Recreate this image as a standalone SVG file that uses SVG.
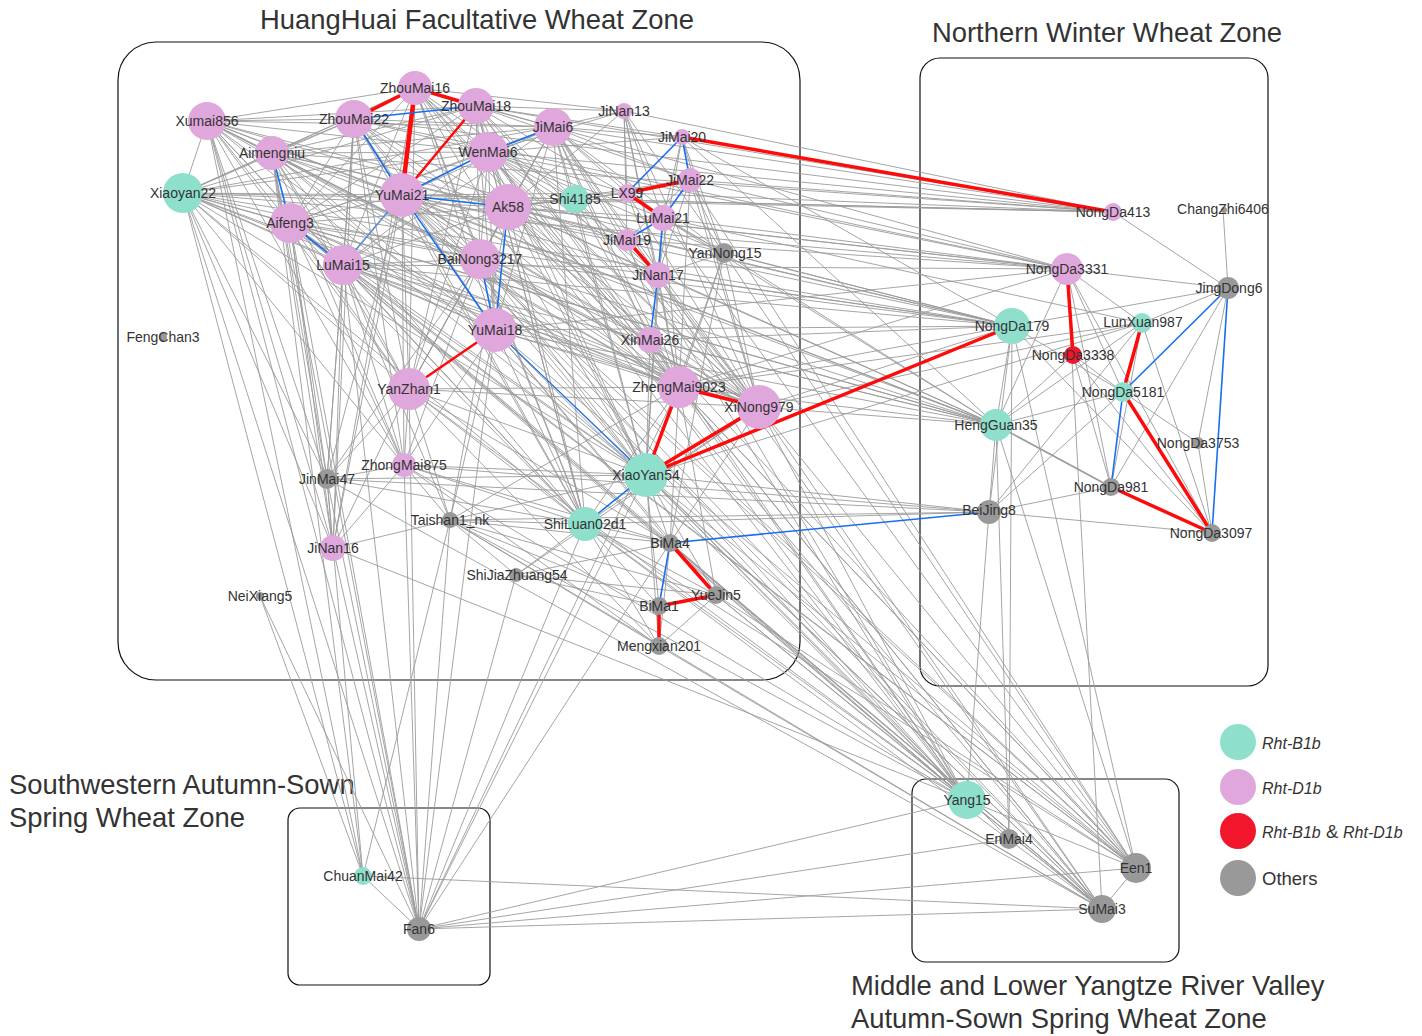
<svg xmlns="http://www.w3.org/2000/svg" width="1422" height="1036" viewBox="0 0 1422 1036">
<style>
.g line{stroke:#9b9b9b;stroke-width:0.9}
.r line{stroke:#ff0a0a;stroke-width:3.5;stroke-linecap:round}
.b line{stroke:#1a6ef0;stroke-width:1.6}
.box{fill:none;stroke:#111;stroke-width:1.2}
.title{font-family:"Liberation Sans",Arial,sans-serif;font-size:27.4px;fill:#333}
.lbl{font-family:"Liberation Sans",Arial,sans-serif;font-size:14px;fill:#333;text-anchor:middle}
.leg{font-family:"Liberation Sans",Arial,sans-serif;font-size:18.5px;fill:#333}
.it{font-style:italic;font-size:16px}
.t{fill:#8ee0cd}.p{fill:#e0a7dc}.rd{fill:#f2162c}.gy{fill:#999}
</style>
<rect width="1422" height="1036" fill="#fff"/>
<g id="zones">
<rect class="box" x="118" y="42" width="682" height="638" rx="38"/>
<rect class="box" x="920" y="58" width="348" height="628" rx="20"/>
<rect class="box" x="288" y="808" width="202" height="177" rx="12"/>
<rect class="box" x="912" y="779" width="267" height="183" rx="14"/>
<text class="title" x="477" y="29" text-anchor="middle">HuangHuai Facultative Wheat Zone</text>
<text class="title" x="1107" y="42" text-anchor="middle">Northern Winter Wheat Zone</text>
<text class="title" x="9" y="794">Southwestern Autumn-Sown</text>
<text class="title" x="9" y="827">Spring Wheat Zone</text>
<text class="title" x="851" y="995">Middle and Lower Yangtze River Valley</text>
<text class="title" x="851" y="1028">Autumn-Sown Spring Wheat Zone</text>
</g>
<g id="connectors">
<g class="g">
<line x1="207" y1="121" x2="272" y2="153"/><line x1="207" y1="121" x2="183" y2="193"/><line x1="207" y1="121" x2="290" y2="223"/><line x1="207" y1="121" x2="343" y2="265"/><line x1="207" y1="121" x2="354" y2="119"/><line x1="207" y1="121" x2="415" y2="88"/><line x1="207" y1="121" x2="476" y2="106"/><line x1="207" y1="121" x2="402" y2="195"/><line x1="207" y1="121" x2="488" y2="152"/><line x1="207" y1="121" x2="553" y2="127"/><line x1="207" y1="121" x2="508" y2="207"/><line x1="207" y1="121" x2="480" y2="259"/><line x1="207" y1="121" x2="495" y2="330"/><line x1="207" y1="121" x2="409" y2="389"/><line x1="207" y1="121" x2="679" y2="387"/><line x1="207" y1="121" x2="759" y2="407"/><line x1="207" y1="121" x2="646" y2="475"/><line x1="207" y1="121" x2="585" y2="524"/>
<line x1="272" y1="153" x2="183" y2="193"/><line x1="272" y1="153" x2="343" y2="265"/><line x1="272" y1="153" x2="354" y2="119"/><line x1="272" y1="153" x2="415" y2="88"/><line x1="272" y1="153" x2="476" y2="106"/><line x1="272" y1="153" x2="402" y2="195"/><line x1="272" y1="153" x2="488" y2="152"/><line x1="272" y1="153" x2="553" y2="127"/><line x1="272" y1="153" x2="508" y2="207"/><line x1="272" y1="153" x2="480" y2="259"/><line x1="272" y1="153" x2="495" y2="330"/><line x1="272" y1="153" x2="409" y2="389"/><line x1="272" y1="153" x2="679" y2="387"/><line x1="272" y1="153" x2="759" y2="407"/><line x1="272" y1="153" x2="646" y2="475"/><line x1="272" y1="153" x2="585" y2="524"/>
<line x1="183" y1="193" x2="290" y2="223"/><line x1="183" y1="193" x2="343" y2="265"/><line x1="183" y1="193" x2="354" y2="119"/><line x1="183" y1="193" x2="415" y2="88"/><line x1="183" y1="193" x2="476" y2="106"/><line x1="183" y1="193" x2="402" y2="195"/><line x1="183" y1="193" x2="488" y2="152"/><line x1="183" y1="193" x2="553" y2="127"/><line x1="183" y1="193" x2="508" y2="207"/><line x1="183" y1="193" x2="480" y2="259"/><line x1="183" y1="193" x2="495" y2="330"/><line x1="183" y1="193" x2="409" y2="389"/><line x1="183" y1="193" x2="679" y2="387"/><line x1="183" y1="193" x2="759" y2="407"/><line x1="183" y1="193" x2="646" y2="475"/><line x1="183" y1="193" x2="585" y2="524"/>
<line x1="290" y1="223" x2="354" y2="119"/><line x1="290" y1="223" x2="415" y2="88"/><line x1="290" y1="223" x2="476" y2="106"/><line x1="290" y1="223" x2="402" y2="195"/><line x1="290" y1="223" x2="488" y2="152"/><line x1="290" y1="223" x2="553" y2="127"/><line x1="290" y1="223" x2="508" y2="207"/><line x1="290" y1="223" x2="480" y2="259"/><line x1="290" y1="223" x2="495" y2="330"/><line x1="290" y1="223" x2="409" y2="389"/><line x1="290" y1="223" x2="679" y2="387"/><line x1="290" y1="223" x2="759" y2="407"/><line x1="290" y1="223" x2="646" y2="475"/><line x1="290" y1="223" x2="585" y2="524"/>
<line x1="343" y1="265" x2="354" y2="119"/><line x1="343" y1="265" x2="415" y2="88"/><line x1="343" y1="265" x2="476" y2="106"/><line x1="343" y1="265" x2="488" y2="152"/><line x1="343" y1="265" x2="553" y2="127"/><line x1="343" y1="265" x2="508" y2="207"/><line x1="343" y1="265" x2="480" y2="259"/><line x1="343" y1="265" x2="495" y2="330"/><line x1="343" y1="265" x2="409" y2="389"/><line x1="343" y1="265" x2="679" y2="387"/><line x1="343" y1="265" x2="759" y2="407"/><line x1="343" y1="265" x2="646" y2="475"/><line x1="343" y1="265" x2="585" y2="524"/>
<line x1="354" y1="119" x2="488" y2="152"/><line x1="354" y1="119" x2="553" y2="127"/><line x1="354" y1="119" x2="508" y2="207"/><line x1="354" y1="119" x2="480" y2="259"/><line x1="354" y1="119" x2="495" y2="330"/><line x1="354" y1="119" x2="409" y2="389"/><line x1="354" y1="119" x2="679" y2="387"/><line x1="354" y1="119" x2="759" y2="407"/><line x1="354" y1="119" x2="646" y2="475"/><line x1="354" y1="119" x2="585" y2="524"/>
<line x1="415" y1="88" x2="488" y2="152"/><line x1="415" y1="88" x2="553" y2="127"/><line x1="415" y1="88" x2="508" y2="207"/><line x1="415" y1="88" x2="480" y2="259"/><line x1="415" y1="88" x2="495" y2="330"/><line x1="415" y1="88" x2="409" y2="389"/><line x1="415" y1="88" x2="679" y2="387"/><line x1="415" y1="88" x2="759" y2="407"/><line x1="415" y1="88" x2="646" y2="475"/><line x1="415" y1="88" x2="585" y2="524"/>
<line x1="476" y1="106" x2="488" y2="152"/><line x1="476" y1="106" x2="553" y2="127"/><line x1="476" y1="106" x2="508" y2="207"/><line x1="476" y1="106" x2="480" y2="259"/><line x1="476" y1="106" x2="495" y2="330"/><line x1="476" y1="106" x2="409" y2="389"/><line x1="476" y1="106" x2="679" y2="387"/><line x1="476" y1="106" x2="759" y2="407"/><line x1="476" y1="106" x2="646" y2="475"/><line x1="476" y1="106" x2="585" y2="524"/>
<line x1="402" y1="195" x2="553" y2="127"/><line x1="402" y1="195" x2="480" y2="259"/><line x1="402" y1="195" x2="409" y2="389"/><line x1="402" y1="195" x2="679" y2="387"/><line x1="402" y1="195" x2="759" y2="407"/><line x1="402" y1="195" x2="646" y2="475"/><line x1="402" y1="195" x2="585" y2="524"/>
<line x1="488" y1="152" x2="508" y2="207"/><line x1="488" y1="152" x2="480" y2="259"/><line x1="488" y1="152" x2="495" y2="330"/><line x1="488" y1="152" x2="409" y2="389"/><line x1="488" y1="152" x2="679" y2="387"/><line x1="488" y1="152" x2="759" y2="407"/><line x1="488" y1="152" x2="646" y2="475"/><line x1="488" y1="152" x2="585" y2="524"/>
<line x1="553" y1="127" x2="508" y2="207"/><line x1="553" y1="127" x2="480" y2="259"/><line x1="553" y1="127" x2="495" y2="330"/><line x1="553" y1="127" x2="409" y2="389"/><line x1="553" y1="127" x2="679" y2="387"/><line x1="553" y1="127" x2="759" y2="407"/><line x1="553" y1="127" x2="646" y2="475"/><line x1="553" y1="127" x2="585" y2="524"/>
<line x1="508" y1="207" x2="480" y2="259"/><line x1="508" y1="207" x2="409" y2="389"/><line x1="508" y1="207" x2="679" y2="387"/><line x1="508" y1="207" x2="759" y2="407"/><line x1="508" y1="207" x2="646" y2="475"/><line x1="508" y1="207" x2="585" y2="524"/>
<line x1="480" y1="259" x2="409" y2="389"/><line x1="480" y1="259" x2="679" y2="387"/><line x1="480" y1="259" x2="759" y2="407"/><line x1="480" y1="259" x2="646" y2="475"/><line x1="480" y1="259" x2="585" y2="524"/>
<line x1="495" y1="330" x2="679" y2="387"/><line x1="495" y1="330" x2="759" y2="407"/><line x1="495" y1="330" x2="585" y2="524"/>
<line x1="409" y1="389" x2="679" y2="387"/><line x1="409" y1="389" x2="759" y2="407"/><line x1="409" y1="389" x2="646" y2="475"/><line x1="409" y1="389" x2="585" y2="524"/>
<line x1="679" y1="387" x2="585" y2="524"/><line x1="759" y1="407" x2="585" y2="524"/>
<line x1="624" y1="111" x2="476" y2="106"/><line x1="624" y1="111" x2="488" y2="152"/><line x1="624" y1="111" x2="553" y2="127"/><line x1="624" y1="111" x2="627" y2="193"/><line x1="624" y1="111" x2="663" y2="218"/><line x1="624" y1="111" x2="658" y2="275"/><line x1="624" y1="111" x2="724" y2="253"/><line x1="624" y1="111" x2="508" y2="207"/><line x1="624" y1="111" x2="415" y2="88"/><line x1="624" y1="111" x2="759" y2="407"/><line x1="624" y1="111" x2="679" y2="387"/><line x1="624" y1="111" x2="627" y2="240"/>
<line x1="682" y1="137" x2="553" y2="127"/><line x1="682" y1="137" x2="476" y2="106"/><line x1="682" y1="137" x2="488" y2="152"/><line x1="682" y1="137" x2="663" y2="218"/><line x1="682" y1="137" x2="658" y2="275"/><line x1="682" y1="137" x2="724" y2="253"/><line x1="682" y1="137" x2="996" y2="425"/><line x1="682" y1="137" x2="1012" y2="326"/><line x1="682" y1="137" x2="759" y2="407"/>
<line x1="690" y1="180" x2="553" y2="127"/><line x1="690" y1="180" x2="476" y2="106"/><line x1="690" y1="180" x2="759" y2="407"/><line x1="690" y1="180" x2="679" y2="387"/><line x1="690" y1="180" x2="658" y2="275"/><line x1="690" y1="180" x2="627" y2="240"/><line x1="690" y1="180" x2="724" y2="253"/><line x1="690" y1="180" x2="1067" y2="269"/><line x1="690" y1="180" x2="1113" y2="212"/><line x1="690" y1="180" x2="508" y2="207"/>
<line x1="627" y1="193" x2="553" y2="127"/><line x1="627" y1="193" x2="488" y2="152"/><line x1="627" y1="193" x2="508" y2="207"/><line x1="627" y1="193" x2="658" y2="275"/><line x1="627" y1="193" x2="402" y2="195"/><line x1="627" y1="193" x2="759" y2="407"/>
<line x1="663" y1="218" x2="553" y2="127"/><line x1="663" y1="218" x2="508" y2="207"/><line x1="663" y1="218" x2="724" y2="253"/><line x1="663" y1="218" x2="646" y2="475"/><line x1="663" y1="218" x2="679" y2="387"/><line x1="663" y1="218" x2="488" y2="152"/>
<line x1="627" y1="240" x2="553" y2="127"/><line x1="627" y1="240" x2="508" y2="207"/><line x1="627" y1="240" x2="488" y2="152"/><line x1="627" y1="240" x2="679" y2="387"/><line x1="627" y1="240" x2="759" y2="407"/><line x1="627" y1="240" x2="402" y2="195"/>
<line x1="658" y1="275" x2="553" y2="127"/><line x1="658" y1="275" x2="488" y2="152"/><line x1="658" y1="275" x2="508" y2="207"/><line x1="658" y1="275" x2="679" y2="387"/><line x1="658" y1="275" x2="759" y2="407"/><line x1="658" y1="275" x2="646" y2="475"/><line x1="658" y1="275" x2="724" y2="253"/><line x1="658" y1="275" x2="402" y2="195"/>
<line x1="724" y1="253" x2="553" y2="127"/><line x1="724" y1="253" x2="679" y2="387"/><line x1="724" y1="253" x2="759" y2="407"/><line x1="724" y1="253" x2="646" y2="475"/><line x1="724" y1="253" x2="670" y2="543"/><line x1="724" y1="253" x2="476" y2="106"/><line x1="724" y1="253" x2="488" y2="152"/>
<line x1="650" y1="340" x2="553" y2="127"/><line x1="650" y1="340" x2="488" y2="152"/><line x1="650" y1="340" x2="476" y2="106"/><line x1="650" y1="340" x2="679" y2="387"/><line x1="650" y1="340" x2="759" y2="407"/><line x1="650" y1="340" x2="646" y2="475"/><line x1="650" y1="340" x2="402" y2="195"/><line x1="650" y1="340" x2="415" y2="88"/><line x1="650" y1="340" x2="508" y2="207"/><line x1="650" y1="340" x2="480" y2="259"/>
<line x1="575" y1="199" x2="476" y2="106"/><line x1="575" y1="199" x2="488" y2="152"/><line x1="575" y1="199" x2="553" y2="127"/><line x1="575" y1="199" x2="508" y2="207"/><line x1="575" y1="199" x2="402" y2="195"/><line x1="575" y1="199" x2="646" y2="475"/><line x1="575" y1="199" x2="627" y2="193"/><line x1="575" y1="199" x2="658" y2="275"/><line x1="575" y1="199" x2="679" y2="387"/><line x1="575" y1="199" x2="415" y2="88"/><line x1="575" y1="199" x2="759" y2="407"/>
<line x1="404" y1="465" x2="409" y2="389"/><line x1="404" y1="465" x2="343" y2="265"/><line x1="404" y1="465" x2="290" y2="223"/><line x1="404" y1="465" x2="272" y2="153"/><line x1="404" y1="465" x2="207" y2="121"/><line x1="404" y1="465" x2="402" y2="195"/><line x1="404" y1="465" x2="495" y2="330"/><line x1="404" y1="465" x2="480" y2="259"/><line x1="404" y1="465" x2="183" y2="193"/><line x1="404" y1="465" x2="333" y2="548"/><line x1="404" y1="465" x2="327" y2="479"/><line x1="404" y1="465" x2="450" y2="520"/><line x1="404" y1="465" x2="585" y2="524"/><line x1="404" y1="465" x2="646" y2="475"/><line x1="404" y1="465" x2="354" y2="119"/>
<line x1="327" y1="479" x2="183" y2="193"/><line x1="327" y1="479" x2="207" y2="121"/><line x1="327" y1="479" x2="272" y2="153"/><line x1="327" y1="479" x2="290" y2="223"/><line x1="327" y1="479" x2="343" y2="265"/><line x1="327" y1="479" x2="409" y2="389"/><line x1="327" y1="479" x2="402" y2="195"/><line x1="327" y1="479" x2="354" y2="119"/><line x1="327" y1="479" x2="333" y2="548"/><line x1="327" y1="479" x2="585" y2="524"/><line x1="327" y1="479" x2="646" y2="475"/><line x1="327" y1="479" x2="480" y2="259"/>
<line x1="333" y1="548" x2="183" y2="193"/><line x1="333" y1="548" x2="207" y2="121"/><line x1="333" y1="548" x2="272" y2="153"/><line x1="333" y1="548" x2="290" y2="223"/><line x1="333" y1="548" x2="343" y2="265"/><line x1="333" y1="548" x2="354" y2="119"/><line x1="333" y1="548" x2="402" y2="195"/><line x1="333" y1="548" x2="409" y2="389"/><line x1="333" y1="548" x2="450" y2="520"/><line x1="333" y1="548" x2="415" y2="88"/><line x1="333" y1="548" x2="967" y2="800"/>
<line x1="450" y1="520" x2="409" y2="389"/><line x1="450" y1="520" x2="495" y2="330"/><line x1="450" y1="520" x2="343" y2="265"/><line x1="450" y1="520" x2="585" y2="524"/><line x1="450" y1="520" x2="646" y2="475"/><line x1="450" y1="520" x2="670" y2="543"/><line x1="450" y1="520" x2="716" y2="595"/><line x1="450" y1="520" x2="679" y2="387"/><line x1="450" y1="520" x2="516" y2="575"/><line x1="450" y1="520" x2="508" y2="207"/>
<line x1="516" y1="575" x2="670" y2="543"/><line x1="516" y1="575" x2="716" y2="595"/><line x1="516" y1="575" x2="585" y2="524"/><line x1="516" y1="575" x2="759" y2="407"/>
<line x1="670" y1="543" x2="646" y2="475"/><line x1="670" y1="543" x2="585" y2="524"/><line x1="670" y1="543" x2="679" y2="387"/><line x1="670" y1="543" x2="404" y2="465"/><line x1="670" y1="543" x2="409" y2="389"/><line x1="670" y1="543" x2="759" y2="407"/><line x1="670" y1="543" x2="495" y2="330"/>
<line x1="716" y1="595" x2="646" y2="475"/><line x1="716" y1="595" x2="585" y2="524"/><line x1="716" y1="595" x2="679" y2="387"/><line x1="716" y1="595" x2="659" y2="646"/><line x1="716" y1="595" x2="495" y2="330"/>
<line x1="659" y1="606" x2="646" y2="475"/><line x1="659" y1="606" x2="585" y2="524"/><line x1="659" y1="606" x2="516" y2="575"/><line x1="659" y1="606" x2="450" y2="520"/>
<line x1="659" y1="646" x2="585" y2="524"/><line x1="659" y1="646" x2="646" y2="475"/><line x1="659" y1="646" x2="409" y2="389"/><line x1="659" y1="646" x2="450" y2="520"/><line x1="659" y1="646" x2="670" y2="543"/><line x1="659" y1="646" x2="404" y2="465"/>
<line x1="260" y1="596" x2="363" y2="876"/><line x1="260" y1="596" x2="419" y2="929"/>
<line x1="967" y1="800" x2="646" y2="475"/><line x1="967" y1="800" x2="585" y2="524"/><line x1="967" y1="800" x2="759" y2="407"/><line x1="967" y1="800" x2="679" y2="387"/><line x1="967" y1="800" x2="495" y2="330"/><line x1="967" y1="800" x2="508" y2="207"/><line x1="967" y1="800" x2="488" y2="152"/><line x1="967" y1="800" x2="658" y2="275"/><line x1="967" y1="800" x2="670" y2="543"/><line x1="967" y1="800" x2="450" y2="520"/><line x1="967" y1="800" x2="409" y2="389"/><line x1="967" y1="800" x2="650" y2="340"/><line x1="967" y1="800" x2="404" y2="465"/><line x1="967" y1="800" x2="553" y2="127"/><line x1="967" y1="800" x2="989" y2="512"/><line x1="967" y1="800" x2="343" y2="265"/><line x1="967" y1="800" x2="402" y2="195"/><line x1="967" y1="800" x2="1136" y2="868"/><line x1="967" y1="800" x2="1102" y2="909"/><line x1="967" y1="800" x2="419" y2="929"/><line x1="967" y1="800" x2="480" y2="259"/><line x1="967" y1="800" x2="290" y2="223"/><line x1="967" y1="800" x2="716" y2="595"/>
<line x1="1136" y1="868" x2="646" y2="475"/><line x1="1136" y1="868" x2="759" y2="407"/><line x1="1136" y1="868" x2="679" y2="387"/><line x1="1136" y1="868" x2="402" y2="195"/><line x1="1136" y1="868" x2="508" y2="207"/><line x1="1136" y1="868" x2="663" y2="218"/><line x1="1136" y1="868" x2="690" y2="180"/><line x1="1136" y1="868" x2="650" y2="340"/><line x1="1136" y1="868" x2="480" y2="259"/><line x1="1136" y1="868" x2="585" y2="524"/><line x1="1136" y1="868" x2="1012" y2="326"/><line x1="1136" y1="868" x2="996" y2="425"/><line x1="1136" y1="868" x2="1102" y2="909"/><line x1="1136" y1="868" x2="716" y2="595"/><line x1="1136" y1="868" x2="724" y2="253"/><line x1="1136" y1="868" x2="419" y2="929"/><line x1="1136" y1="868" x2="495" y2="330"/><line x1="1136" y1="868" x2="343" y2="265"/><line x1="1136" y1="868" x2="290" y2="223"/>
<line x1="1102" y1="909" x2="646" y2="475"/><line x1="1102" y1="909" x2="585" y2="524"/><line x1="1102" y1="909" x2="759" y2="407"/><line x1="1102" y1="909" x2="679" y2="387"/><line x1="1102" y1="909" x2="495" y2="330"/><line x1="1102" y1="909" x2="480" y2="259"/><line x1="1102" y1="909" x2="402" y2="195"/><line x1="1102" y1="909" x2="450" y2="520"/><line x1="1102" y1="909" x2="327" y2="479"/><line x1="1102" y1="909" x2="670" y2="543"/><line x1="1102" y1="909" x2="716" y2="595"/><line x1="1102" y1="909" x2="659" y2="646"/><line x1="1102" y1="909" x2="363" y2="876"/><line x1="1102" y1="909" x2="419" y2="929"/><line x1="1102" y1="909" x2="1067" y2="269"/><line x1="1102" y1="909" x2="290" y2="223"/><line x1="1102" y1="909" x2="658" y2="275"/><line x1="1102" y1="909" x2="343" y2="265"/><line x1="1102" y1="909" x2="508" y2="207"/><line x1="1102" y1="909" x2="488" y2="152"/>
<line x1="1009" y1="839" x2="1012" y2="326"/><line x1="1009" y1="839" x2="419" y2="929"/><line x1="1009" y1="839" x2="996" y2="425"/><line x1="1009" y1="839" x2="646" y2="475"/>
<line x1="419" y1="929" x2="327" y2="479"/><line x1="419" y1="929" x2="404" y2="465"/><line x1="419" y1="929" x2="409" y2="389"/><line x1="419" y1="929" x2="343" y2="265"/><line x1="419" y1="929" x2="290" y2="223"/><line x1="419" y1="929" x2="585" y2="524"/><line x1="419" y1="929" x2="646" y2="475"/><line x1="419" y1="929" x2="450" y2="520"/><line x1="419" y1="929" x2="670" y2="543"/><line x1="419" y1="929" x2="495" y2="330"/><line x1="419" y1="929" x2="183" y2="193"/><line x1="419" y1="929" x2="272" y2="153"/><line x1="419" y1="929" x2="333" y2="548"/><line x1="419" y1="929" x2="207" y2="121"/><line x1="419" y1="929" x2="679" y2="387"/><line x1="419" y1="929" x2="516" y2="575"/>
<line x1="363" y1="876" x2="183" y2="193"/><line x1="363" y1="876" x2="207" y2="121"/><line x1="363" y1="876" x2="272" y2="153"/><line x1="363" y1="876" x2="450" y2="520"/><line x1="363" y1="876" x2="327" y2="479"/><line x1="363" y1="876" x2="419" y2="929"/>
<line x1="1113" y1="212" x2="183" y2="193"/><line x1="1113" y1="212" x2="272" y2="153"/><line x1="1113" y1="212" x2="354" y2="119"/><line x1="1113" y1="212" x2="488" y2="152"/><line x1="1113" y1="212" x2="553" y2="127"/><line x1="1113" y1="212" x2="624" y2="111"/><line x1="1113" y1="212" x2="627" y2="193"/><line x1="1113" y1="212" x2="575" y2="199"/><line x1="1113" y1="212" x2="476" y2="106"/><line x1="1113" y1="212" x2="402" y2="195"/><line x1="1113" y1="212" x2="1228" y2="288"/>
<line x1="1067" y1="269" x2="354" y2="119"/><line x1="1067" y1="269" x2="402" y2="195"/><line x1="1067" y1="269" x2="508" y2="207"/><line x1="1067" y1="269" x2="488" y2="152"/><line x1="1067" y1="269" x2="663" y2="218"/><line x1="1067" y1="269" x2="627" y2="240"/><line x1="1067" y1="269" x2="495" y2="330"/><line x1="1067" y1="269" x2="343" y2="265"/><line x1="1067" y1="269" x2="679" y2="387"/><line x1="1067" y1="269" x2="553" y2="127"/><line x1="1067" y1="269" x2="183" y2="193"/>
<line x1="1012" y1="326" x2="290" y2="223"/><line x1="1012" y1="326" x2="343" y2="265"/><line x1="1012" y1="326" x2="402" y2="195"/><line x1="1012" y1="326" x2="508" y2="207"/><line x1="1012" y1="326" x2="480" y2="259"/><line x1="1012" y1="326" x2="495" y2="330"/><line x1="1012" y1="326" x2="658" y2="275"/><line x1="1012" y1="326" x2="183" y2="193"/><line x1="1012" y1="326" x2="724" y2="253"/><line x1="1012" y1="326" x2="650" y2="340"/><line x1="1012" y1="326" x2="679" y2="387"/><line x1="1012" y1="326" x2="759" y2="407"/><line x1="1012" y1="326" x2="272" y2="153"/><line x1="1012" y1="326" x2="207" y2="121"/>
<line x1="996" y1="425" x2="183" y2="193"/><line x1="996" y1="425" x2="290" y2="223"/><line x1="996" y1="425" x2="343" y2="265"/><line x1="996" y1="425" x2="402" y2="195"/><line x1="996" y1="425" x2="480" y2="259"/><line x1="996" y1="425" x2="495" y2="330"/><line x1="996" y1="425" x2="658" y2="275"/><line x1="996" y1="425" x2="650" y2="340"/><line x1="996" y1="425" x2="679" y2="387"/><line x1="996" y1="425" x2="759" y2="407"/><line x1="996" y1="425" x2="724" y2="253"/><line x1="996" y1="425" x2="663" y2="218"/><line x1="996" y1="425" x2="272" y2="153"/><line x1="996" y1="425" x2="207" y2="121"/><line x1="996" y1="425" x2="508" y2="207"/>
<line x1="989" y1="512" x2="646" y2="475"/><line x1="989" y1="512" x2="585" y2="524"/><line x1="989" y1="512" x2="450" y2="520"/><line x1="989" y1="512" x2="327" y2="479"/><line x1="989" y1="512" x2="404" y2="465"/>
<line x1="1142" y1="323" x2="646" y2="475"/><line x1="1142" y1="323" x2="759" y2="407"/><line x1="1142" y1="323" x2="679" y2="387"/><line x1="1142" y1="323" x2="663" y2="218"/>
<line x1="1223" y1="209" x2="1228" y2="288"/><line x1="1067" y1="269" x2="1228" y2="288"/><line x1="1142" y1="323" x2="1228" y2="288"/><line x1="1012" y1="326" x2="1228" y2="288"/><line x1="1067" y1="269" x2="1142" y2="323"/><line x1="1067" y1="269" x2="1123" y2="392"/><line x1="1067" y1="269" x2="1111" y2="487"/><line x1="1067" y1="269" x2="1212" y2="533"/><line x1="1067" y1="269" x2="996" y2="425"/><line x1="1012" y1="326" x2="1123" y2="392"/><line x1="1012" y1="326" x2="996" y2="425"/><line x1="1012" y1="326" x2="989" y2="512"/><line x1="1142" y1="323" x2="996" y2="425"/><line x1="1142" y1="323" x2="1111" y2="487"/><line x1="1142" y1="323" x2="1212" y2="533"/><line x1="1142" y1="323" x2="989" y2="512"/><line x1="1073" y1="355" x2="1123" y2="392"/><line x1="1073" y1="355" x2="1111" y2="487"/><line x1="1073" y1="355" x2="996" y2="425"/><line x1="1123" y1="392" x2="996" y2="425"/><line x1="1123" y1="392" x2="989" y2="512"/><line x1="1123" y1="392" x2="1198" y2="443"/><line x1="1198" y1="443" x2="1228" y2="288"/><line x1="1198" y1="443" x2="1212" y2="533"/><line x1="1228" y1="288" x2="1111" y2="487"/><line x1="996" y1="425" x2="1111" y2="487" style="stroke-width:1.6"/><line x1="996" y1="425" x2="989" y2="512"/><line x1="989" y1="512" x2="1111" y2="487"/><line x1="989" y1="512" x2="1212" y2="533"/><line x1="1073" y1="355" x2="1212" y2="533"/><line x1="1012" y1="326" x2="1212" y2="533"/>
</g>
<g class="r">
<line x1="415" y1="88" x2="354" y2="119"/><line x1="415" y1="88" x2="476" y2="106"/><line x1="415" y1="88" x2="402" y2="195" style="stroke-width:4.5"/><line x1="476" y1="106" x2="402" y2="195" style="stroke-width:2.5"/><line x1="409" y1="389" x2="495" y2="330" style="stroke-width:2.5"/><line x1="682" y1="137" x2="1113" y2="212"/><line x1="627" y1="193" x2="690" y2="180"/><line x1="627" y1="193" x2="663" y2="218"/><line x1="627" y1="240" x2="658" y2="275"/><line x1="679" y1="387" x2="759" y2="407"/><line x1="679" y1="387" x2="646" y2="475"/><line x1="759" y1="407" x2="646" y2="475"/><line x1="646" y1="475" x2="1012" y2="326"/><line x1="1067" y1="269" x2="1073" y2="355"/><line x1="1142" y1="323" x2="1123" y2="392"/><line x1="1123" y1="392" x2="1212" y2="533"/><line x1="1111" y1="487" x2="1212" y2="533"/><line x1="670" y1="543" x2="716" y2="595"/><line x1="659" y1="606" x2="716" y2="595"/><line x1="659" y1="606" x2="659" y2="646"/>
</g>
<g class="b">
<line x1="354" y1="119" x2="476" y2="106"/><line x1="354" y1="119" x2="402" y2="195"/><line x1="272" y1="153" x2="290" y2="223"/><line x1="290" y1="223" x2="343" y2="265"/><line x1="343" y1="265" x2="402" y2="195" style="stroke:#5b8ed8"/><line x1="402" y1="195" x2="488" y2="152"/><line x1="402" y1="195" x2="508" y2="207"/><line x1="402" y1="195" x2="495" y2="330"/><line x1="508" y1="207" x2="495" y2="330"/><line x1="480" y1="259" x2="495" y2="330"/><line x1="488" y1="152" x2="553" y2="127"/><line x1="682" y1="137" x2="627" y2="193"/><line x1="682" y1="137" x2="690" y2="180"/><line x1="690" y1="180" x2="663" y2="218"/><line x1="663" y1="218" x2="627" y2="240"/><line x1="663" y1="218" x2="658" y2="275"/><line x1="658" y1="275" x2="650" y2="340"/><line x1="495" y1="330" x2="646" y2="475" style="stroke-width:1.1"/><line x1="646" y1="475" x2="585" y2="524"/><line x1="670" y1="543" x2="989" y2="512"/><line x1="670" y1="543" x2="659" y2="606"/><line x1="1228" y1="288" x2="1123" y2="392"/><line x1="1228" y1="288" x2="1212" y2="533"/><line x1="1123" y1="392" x2="1111" y2="487"/>
</g>
</g>
<g id="nodes">
<g id="n-ZhouMai16"><circle class="p" cx="415" cy="88" r="17"/><text class="lbl" x="415" y="93">ZhouMai16</text></g>
<g id="n-ZhouMai18"><circle class="p" cx="476" cy="106" r="18"/><text class="lbl" x="476" y="111">ZhouMai18</text></g>
<g id="n-ZhouMai22"><circle class="p" cx="354" cy="119" r="19"/><text class="lbl" x="354" y="124">ZhouMai22</text></g>
<g id="n-Xumai856"><circle class="p" cx="207" cy="121" r="19"/><text class="lbl" x="207" y="126">Xumai856</text></g>
<g id="n-Aimengniu"><circle class="p" cx="272" cy="153" r="17"/><text class="lbl" x="272" y="158">Aimengniu</text></g>
<g id="n-Xiaoyan22"><circle class="t" cx="183" cy="193" r="20"/><text class="lbl" x="183" y="198">Xiaoyan22</text></g>
<g id="n-Aifeng3"><circle class="p" cx="290" cy="223" r="20"/><text class="lbl" x="290" y="228">Aifeng3</text></g>
<g id="n-LuMai15"><circle class="p" cx="343" cy="265" r="20"/><text class="lbl" x="343" y="270">LuMai15</text></g>
<g id="n-YuMai21"><circle class="p" cx="402" cy="195" r="22"/><text class="lbl" x="402" y="200">YuMai21</text></g>
<g id="n-WenMai6"><circle class="p" cx="488" cy="152" r="20"/><text class="lbl" x="488" y="157">WenMai6</text></g>
<g id="n-JiMai6"><circle class="p" cx="553" cy="127" r="19"/><text class="lbl" x="553" y="132">JiMai6</text></g>
<g id="n-Ak58"><circle class="p" cx="508" cy="207" r="23"/><text class="lbl" x="508" y="212">Ak58</text></g>
<g id="n-BaiNong3217"><circle class="p" cx="480" cy="259" r="20"/><text class="lbl" x="480" y="264">BaiNong3217</text></g>
<g id="n-Shi4185"><circle class="t" cx="575" cy="199" r="14"/><text class="lbl" x="575" y="204">Shi4185</text></g>
<g id="n-JiNan13"><circle class="p" cx="624" cy="111" r="8"/><text class="lbl" x="624" y="116">JiNan13</text></g>
<g id="n-JiMai20"><circle class="p" cx="682" cy="137" r="8"/><text class="lbl" x="682" y="142">JiMai20</text></g>
<g id="n-JiMai22"><circle class="p" cx="690" cy="180" r="12"/><text class="lbl" x="690" y="185">JiMai22</text></g>
<g id="n-LX99"><circle class="p" cx="627" cy="193" r="9"/><text class="lbl" x="627" y="198">LX99</text></g>
<g id="n-LuMai21"><circle class="p" cx="663" cy="218" r="13"/><text class="lbl" x="663" y="223">LuMai21</text></g>
<g id="n-JiMai19"><circle class="p" cx="627" cy="240" r="11"/><text class="lbl" x="627" y="245">JiMai19</text></g>
<g id="n-JiNan17"><circle class="p" cx="658" cy="275" r="13"/><text class="lbl" x="658" y="280">JiNan17</text></g>
<g id="n-YanNong15"><circle class="gy" cx="724" cy="253" r="10"/><text class="lbl" x="725" y="258">YanNong15</text></g>
<g id="n-YuMai18"><circle class="p" cx="495" cy="330" r="22"/><text class="lbl" x="495" y="335">YuMai18</text></g>
<g id="n-XinMai26"><circle class="p" cx="650" cy="340" r="13"/><text class="lbl" x="650" y="345">XinMai26</text></g>
<g id="n-ZhengMai9023"><circle class="p" cx="679" cy="387" r="21"/><text class="lbl" x="679" y="392">ZhengMai9023</text></g>
<g id="n-XiNong979"><circle class="p" cx="759" cy="407" r="22"/><text class="lbl" x="759" y="412">XiNong979</text></g>
<g id="n-YanZhan1"><circle class="p" cx="409" cy="389" r="21"/><text class="lbl" x="409" y="394">YanZhan1</text></g>
<g id="n-ZhongMai875"><circle class="p" cx="404" cy="465" r="12"/><text class="lbl" x="404" y="470">ZhongMai875</text></g>
<g id="n-XiaoYan54"><circle class="t" cx="646" cy="475" r="22"/><text class="lbl" x="646" y="480">XiaoYan54</text></g>
<g id="n-ShiLuan02d1"><circle class="t" cx="585" cy="524" r="17"/><text class="lbl" x="585" y="529">ShiLuan02d1</text></g>
<g id="n-JinMai47"><circle class="gy" cx="327" cy="479" r="10"/><text class="lbl" x="327" y="484">JinMai47</text></g>
<g id="n-JiNan16"><circle class="p" cx="333" cy="548" r="13"/><text class="lbl" x="333" y="553">JiNan16</text></g>
<g id="n-Taishan1_nk"><circle class="gy" cx="450" cy="520" r="8"/><text class="lbl" x="450" y="525">Taishan1_nk</text></g>
<g id="n-ShiJiaZhuang54"><circle class="gy" cx="516" cy="575" r="7"/><text class="lbl" x="517" y="580">ShiJiaZhuang54</text></g>
<g id="n-NeiXiang5"><circle class="gy" cx="260" cy="596" r="4"/><text class="lbl" x="260" y="601">NeiXiang5</text></g>
<g id="n-FengChan3"><circle class="gy" cx="163" cy="337" r="4"/><text class="lbl" x="163" y="342">FengChan3</text></g>
<g id="n-BiMa4"><circle class="gy" cx="670" cy="543" r="9"/><text class="lbl" x="670" y="548">BiMa4</text></g>
<g id="n-YueJin5"><circle class="gy" cx="716" cy="595" r="9"/><text class="lbl" x="716" y="600">YueJin5</text></g>
<g id="n-BiMa1"><circle class="gy" cx="659" cy="606" r="9"/><text class="lbl" x="659" y="611">BiMa1</text></g>
<g id="n-Mengxian201"><circle class="gy" cx="659" cy="646" r="9"/><text class="lbl" x="659" y="651">Mengxian201</text></g>
<g id="n-NongDa413"><circle class="p" cx="1113" cy="212" r="9"/><text class="lbl" x="1113" y="217">NongDa413</text></g>
<g id="n-ChangZhi6406"><circle class="gy" cx="1224" cy="210" r="3"/><text class="lbl" x="1223" y="214">ChangZhi6406</text></g>
<g id="n-JingDong6"><circle class="gy" cx="1228" cy="288" r="11"/><text class="lbl" x="1229" y="293">JingDong6</text></g>
<g id="n-NongDa3331"><circle class="p" cx="1067" cy="269" r="16"/><text class="lbl" x="1067" y="274">NongDa3331</text></g>
<g id="n-NongDa179"><circle class="t" cx="1012" cy="326" r="18"/><text class="lbl" x="1012" y="331">NongDa179</text></g>
<g id="n-LunXuan987"><circle class="t" cx="1142" cy="323" r="10"/><text class="lbl" x="1143" y="327">LunXuan987</text></g>
<g id="n-NongDa3338"><circle class="rd" cx="1073" cy="355" r="9"/><text class="lbl" x="1073" y="360">NongDa3338</text></g>
<g id="n-NongDa5181"><circle class="t" cx="1123" cy="392" r="10"/><text class="lbl" x="1123" y="397">NongDa5181</text></g>
<g id="n-HengGuan35"><circle class="t" cx="996" cy="425" r="16"/><text class="lbl" x="996" y="430">HengGuan35</text></g>
<g id="n-NongDa3753"><circle class="gy" cx="1198" cy="443" r="6"/><text class="lbl" x="1198" y="448">NongDa3753</text></g>
<g id="n-NongDa981"><circle class="gy" cx="1111" cy="487" r="9"/><text class="lbl" x="1111" y="492">NongDa981</text></g>
<g id="n-BeiJing8"><circle class="gy" cx="989" cy="512" r="12"/><text class="lbl" x="989" y="515">BeiJing8</text></g>
<g id="n-NongDa3097"><circle class="gy" cx="1212" cy="533" r="9"/><text class="lbl" x="1211" y="538">NongDa3097</text></g>
<g id="n-ChuanMai42"><circle class="t" cx="363" cy="876" r="9"/><text class="lbl" x="363" y="881">ChuanMai42</text></g>
<g id="n-Fan6"><circle class="gy" cx="419" cy="929" r="12"/><text class="lbl" x="419" y="934">Fan6</text></g>
<g id="n-Yang15"><circle class="t" cx="967" cy="800" r="19"/><text class="lbl" x="967" y="805">Yang15</text></g>
<g id="n-EnMai4"><circle class="gy" cx="1009" cy="839" r="10"/><text class="lbl" x="1009" y="844">EnMai4</text></g>
<g id="n-Een1"><circle class="gy" cx="1136" cy="868" r="15"/><text class="lbl" x="1136" y="873">Een1</text></g>
<g id="n-SuMai3"><circle class="gy" cx="1102" cy="909" r="14"/><text class="lbl" x="1102" y="914">SuMai3</text></g>
</g>
<g id="legend">
<circle class="t" cx="1238" cy="742" r="18"/><text class="leg it" x="1262" y="749">Rht-B1b</text>
<circle class="p" cx="1238" cy="787" r="18"/><text class="leg it" x="1262" y="794">Rht-D1b</text>
<circle class="rd" cx="1238" cy="831" r="18"/><text class="leg it" x="1262" y="838">Rht-B1b</text><text class="leg" x="1326" y="838">&amp;</text><text class="leg it" x="1343" y="838">Rht-D1b</text>
<circle class="gy" cx="1238" cy="878" r="18"/><text class="leg" x="1262" y="885">Others</text>
</g>
</svg>
